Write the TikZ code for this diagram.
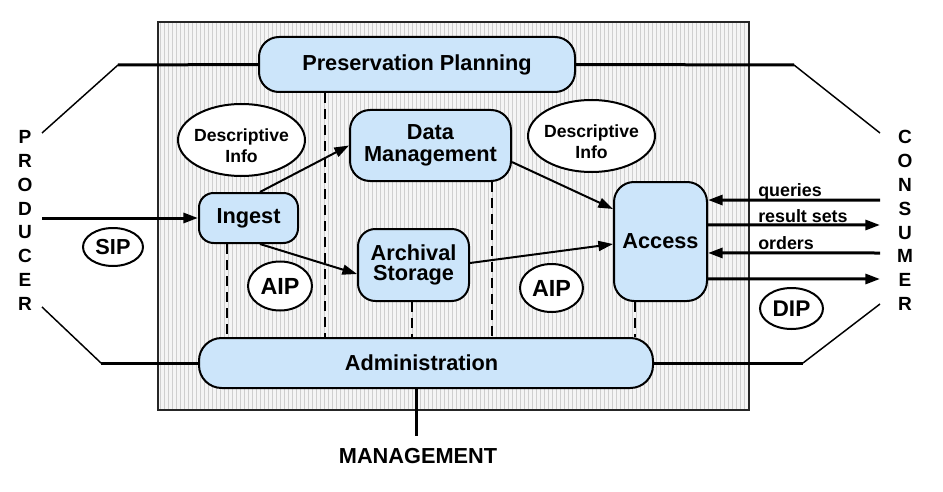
\documentclass[tikz,border=0pt]{standalone}
\usepackage{fontspec}
\setmainfont{Liberation Sans}
\usetikzlibrary{arrows.meta,shapes.geometric,patterns}
\definecolor{boxblue}{RGB}{204,229,250}
\begin{document}
\begin{tikzpicture}[x=0.75pt,y=-0.75pt,
  box/.style={draw,line width=1.5pt,fill=boxblue,align=center,inner sep=0pt,
    font=\fontsize{16.3}{16.5}\selectfont\bfseries},
  ell/.style={draw,ellipse,line width=1.5pt,fill=white,inner sep=0pt},
  elltxt/.style={align=center,inner sep=0pt,font=\fontsize{13.2}{15.75}\selectfont\bfseries},
  side/.style={align=center,inner sep=0pt,font=\fontsize{14.3}{17.9}\selectfont\bfseries},
  small/.style={anchor=base west,inner sep=0pt,font=\fontsize{13.4}{14}\selectfont\bfseries},
  thinarr/.style={line width=1.5pt,-{Triangle[length=11pt,width=7.5pt]}},
  thickarr/.style={line width=2.25pt,-{Triangle[length=11pt,width=7.5pt]}},
  heavy/.style={line width=2.25pt},
  slant/.style={line width=1.1pt},
  dashline/.style={line width=2pt,dash pattern=on 7.5pt off 4.5pt}
]
\useasboundingbox (0,0) rectangle (943,492);
% background
\path[fill=gray!8] (158,22) rectangle (749,410);
\path[pattern=vertical lines,pattern color=gray!38] (158,22) rectangle (749,410);
\draw[line width=1.3pt,black!85] (158,22) rectangle (749,410);

% connectors outside
\coordinate (ppL1) at (118,65);
\coordinate (ppL2) at (42,133);
\coordinate (ppR1) at (794,65);
\coordinate (ppR2) at (880,133);
\coordinate (adL1) at (101,363);
\coordinate (adL2) at (42,307);
\coordinate (adR1) at (803,363);
\coordinate (adR2) at (880,304);
\coordinate (mg) at (416,436);
\coordinate (prod) at (42,218);
\coordinate (q) at (880,200);
\coordinate (rs) at (880,225);
\coordinate (od) at (880,253);
\coordinate (dp) at (880,279);

% boxes
\node[box,rounded corners=15pt,minimum width=237pt,minimum height=41.25pt] (pp) at (417,64.5) {Preservation Planning};
\node[box,rounded corners=15pt,minimum width=120.75pt,minimum height=53.25pt] (dm) at (430.5,145.5) {Data\\Management};
\node[box,rounded corners=11pt,minimum width=74.25pt,minimum height=37.5pt] (ing) at (248.5,218) {Ingest};
\node[box,rounded corners=13pt,minimum width=83.25pt,minimum height=54pt,
  font=\fontsize{16.3}{15.5}\selectfont\bfseries] (arch) at (413.5,265) {Archival\\Storage};
\node[box,rounded corners=15pt,minimum width=69.75pt,minimum height=89.25pt] (acc) at (660.5,241.5) {Access};
\node[box,rounded corners=17pt,minimum width=340.5pt,minimum height=37.5pt] (adm) at (426,363) {};
\node[box,draw=none,fill=none] (admt) at (421.5,363) {Administration};

% ellipses
\node[ell,minimum width=95.25pt,minimum height=54pt] (dl) at (241.5,140) {};
\node[elltxt] (dlt) at (241.5,146) {Descriptive\\Info};
\node[ell,minimum width=95.25pt,minimum height=54pt] (dr) at (591.5,136) {};
\node[elltxt] (drt) at (591.5,142) {Descriptive\\Info};
\node[ell,minimum width=45pt,minimum height=28.5pt,font=\fontsize{16.3}{17}\selectfont\bfseries] (sip) at (113,247) {SIP};
\node[ell,minimum width=48pt,minimum height=36.75pt,font=\fontsize{17.5}{18}\selectfont\bfseries] (aipl) at (280,286) {AIP};
\node[ell,minimum width=47.25pt,minimum height=36pt,font=\fontsize{17.5}{18}\selectfont\bfseries] (aipr) at (551.5,288) {AIP};
\node[ell,minimum width=47.25pt,minimum height=30.75pt,font=\fontsize{17}{18}\selectfont\bfseries] (dip) at (791.5,308.5) {DIP};

% external lines
\draw[heavy] (pp.west) -- (ppL1);
\draw[slant] (ppL1) -- (ppL2);
\draw[heavy] (pp.east) -- (ppR1);
\draw[slant] (ppR1) -- (ppR2);
\draw[heavy] (adm.west) -- (adL1);
\draw[slant] (adL1) -- (adL2);
\draw[heavy] (adm.east) -- (adR1);
\draw[slant] (adR1) -- (adR2);
\draw[heavy] ([xshift=-7.5pt]adm.south) -- (mg);

% dashed
\draw[dashline] ([xshift=-16.1pt]ing.south) -- ([xshift=-16.1pt]ing.south |- adm.north);
\draw[dashline] ([xshift=-69pt]pp.south) -- ([xshift=-69pt]pp.south |- adm.north);
\draw[dashline] ([xshift=-1.1pt]arch.south) -- ([xshift=-1.1pt]arch.south |- adm.north);
\draw[dashline] ([xshift=46.1pt]dm.south) -- ([xshift=46.1pt]dm.south |- adm.north);
\draw[dashline] ([xshift=-19.1pt]acc.south) -- ([xshift=-19.1pt]acc.south |- adm.north);

% arrows
\draw[thickarr] (prod) -- (ing.west);
\draw[thinarr] ([xshift=8.6pt]ing.north) -- (dm.west);
\draw[thinarr] ([xshift=8.6pt]ing.south) -- ([yshift=-6.75pt]arch.west);
\draw[thinarr] ([yshift=-12.4pt]dm.east) -- ([yshift=24.4pt]acc.west);
\draw[thinarr] ([yshift=1.5pt]arch.east) -- ([yshift=-1.9pt]acc.west);
\draw[thickarr] (q) -- ([yshift=31.1pt]acc.east);
\draw[thickarr] ([yshift=12.4pt]acc.east) -- (rs);
\draw[thickarr] (od) -- ([yshift=-8.6pt]acc.east);
\draw[thickarr] ([yshift=-28.1pt]acc.east) -- (dp);

% labels
\node[small] (ql) at (758,196) {queries};
\node[small] (rl) at (758,222) {result sets};
\node[small] (ol) at (758,249) {orders};
\node[anchor=base,inner sep=0pt,font=\fontsize{16.3}{17}\selectfont\bfseries] (mgt) at (418,463) {MANAGEMENT};
\node[side] (prd) at (25,220.5) {P\\R\\O\\D\\U\\C\\E\\R};
\node[side] (cns) at (905,220.5) {C\\O\\N\\S\\U\\M\\E\\R};
\end{tikzpicture}
\end{document}
